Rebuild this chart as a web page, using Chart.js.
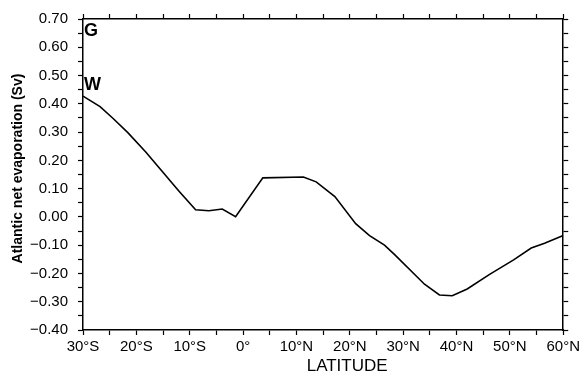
<!DOCTYPE html>
<html>
<head>
<meta charset="utf-8">
<script src="https://cdn.jsdelivr.net/npm/chart.js@4.4.0/dist/chart.umd.min.js"></script>
<style>
  html, body { margin: 0; padding: 0; background: #fff; }
  #wrap { width: 583px; height: 374px; }
</style>
</head>
<body>
<div id="wrap"><canvas id="chart"></canvas></div>
<script>
// Vĩ độ (âm = Nam, dương = Bắc) và lượng bốc hơi ròng (Sv)
const latitudes = [-30, -26.8, -24.4, -21.6, -18.2, -15.1, -12, -8.9, -6.4, -3.9, -1.4,
  3.7, 11.3, 13.7, 17.2, 21.1, 23.7, 26.5, 28.5, 34, 36.8, 39.2, 42, 46.2, 50.7, 54, 56.5, 60];
const evaporation = [0.427, 0.39, 0.349, 0.298, 0.229, 0.16, 0.091, 0.025, 0.022, 0.028, 0.001,
  0.138, 0.141, 0.124, 0.072, -0.024, -0.066, -0.10, -0.135, -0.238, -0.276, -0.279, -0.255,
  -0.203, -0.152, -0.11, -0.093, -0.066];

// Các nhãn chữ trong khung (vị trí theo giá trị trục)
const panelLetters = [
  { text: 'G', lat: -30, value: 0.659 },
  { text: 'W', lat: -30, value: 0.465 }
];
const xTitle = 'LATITUDE';
const yTitle = 'Atlantic net evaporation (Sv)';

const FONT = "'Liberation Sans', Arial, Helvetica, sans-serif";
const points = latitudes.map((lat, i) => ({ x: lat, y: evaporation[i] }));

function latLabel(v) {
  const r = Math.round(v);
  if (r % 10 !== 0) return '';
  if (r < 0) return (-r) + '°S';
  if (r === 0) return '0°';
  return r + '°N';
}

function valueLabel(v) {
  const c = Math.round(v * 100);
  if (c % 10 !== 0) return '';
  const s = Math.abs(c / 100).toFixed(2);
  return c < 0 ? '\u2212' + s : s;
}

// Plugin vẽ tiêu đề trục và chữ G, W
const textPlugin = {
  id: 'texts',
  afterDraw(chart) {
    const { ctx, chartArea, scales } = chart;
    ctx.save();
    ctx.fillStyle = '#000';
    ctx.textBaseline = 'middle';

    ctx.font = 'bold 18px ' + FONT;
    ctx.textAlign = 'left';
    panelLetters.forEach(p => {
      ctx.fillText(p.text, scales.x.getPixelForValue(p.lat) + 1, scales.y.getPixelForValue(p.value));
    });

    ctx.font = '17px ' + FONT;
    ctx.textAlign = 'center';
    ctx.fillText(xTitle, scales.x.getPixelForValue(19.5), 366);

    ctx.translate(18, (chartArea.top + chartArea.bottom) / 2 - 6);
    ctx.rotate(-Math.PI / 2);
    ctx.font = 'bold 14px ' + FONT;
    ctx.fillText(yTitle, 0, 0);
    ctx.restore();
  }
};

const axisGrid = {
  drawOnChartArea: false,
  drawTicks: true,
  tickLength: 5,
  tickWidth: 1.2,
  color: '#000'
};
const axisBorder = { display: true, color: '#000', width: 1.5 };

new Chart(document.getElementById('chart'), {
  type: 'line',
  data: {
    datasets: [{
      data: points,
      borderColor: '#000',
      borderWidth: 1.6,
      pointRadius: 0,
      tension: 0,
      fill: false
    }]
  },
  options: {
    responsive: true,
    maintainAspectRatio: false,
    animation: false,
    layout: { padding: 0 },
    plugins: { legend: { display: false }, tooltip: { enabled: false } },
    scales: {
      x: {
        type: 'linear',
        position: 'bottom',
        min: -30, max: 60,
        grid: axisGrid,
        border: axisBorder,
        ticks: {
          stepSize: 5, autoSkip: false, maxRotation: 0, padding: 3,
          color: '#000', font: { family: FONT, size: 15 },
          callback: latLabel
        },
        afterFit(scale) { scale.height = 44; }
      },
      x2: {
        type: 'linear',
        position: 'top',
        min: -30, max: 60,
        grid: axisGrid,
        border: axisBorder,
        ticks: { stepSize: 5, autoSkip: false, display: false },
        afterFit(scale) { scale.height = 10; }
      },
      y: {
        type: 'linear',
        position: 'left',
        min: -0.4, max: 0.7,
        grid: axisGrid,
        border: axisBorder,
        ticks: {
          stepSize: 0.05, autoSkip: false, padding: 10,
          color: '#000', font: { family: FONT, size: 15 },
          callback: valueLabel
        },
        afterFit(scale) { scale.width = 83; }
      },
      y2: {
        type: 'linear',
        position: 'right',
        min: -0.4, max: 0.7,
        grid: axisGrid,
        border: axisBorder,
        ticks: { stepSize: 0.05, autoSkip: false, display: false },
        afterFit(scale) { scale.width = 15; }
      }
    }
  },
  plugins: [textPlugin]
});
</script>
</body>
</html>
